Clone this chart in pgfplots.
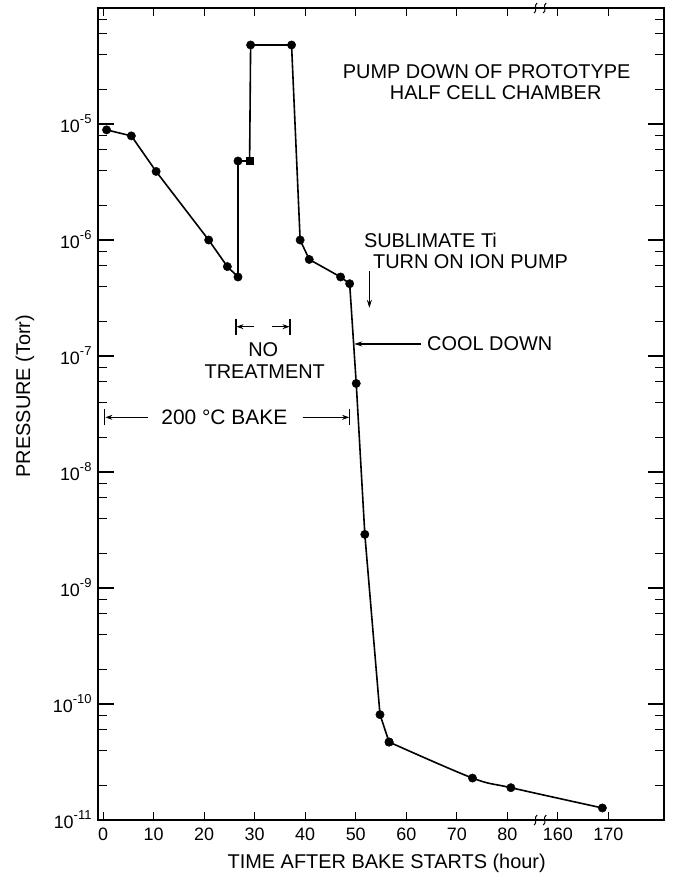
\documentclass[border=0pt]{standalone}
\usepackage{pgfplots}
\pgfplotsset{compat=1.18}
\usepackage{fontspec}
\setmainfont{Liberation Sans}
\usetikzlibrary{arrows.meta}
\newcommand\af{\fontsize{20}{24}\selectfont}
\newcommand\tf{\fontsize{18}{21}\selectfont}
\newcommand\ex[1]{10\raisebox{0.5em}{\fontsize{13}{13}\selectfont #1}}
\begin{document}
\begin{tikzpicture}
\begin{axis}[
  scale only axis, width=566bp, height=812bp,
  ymode=log, xmin=-1, xmax=111, ymin=1e-11, ymax=1e-4,
  clip=false,
  axis line style={line width=1.2bp},
  every tick/.style={black, line width=1.1bp},
  tick align=inside,
  major tick length=16bp, minor tick length=9bp,
  xtick=\empty,
  extra x ticks={0,10,20,30,40,50,60,70,80,90,100},
  extra x tick labels={0,10,20,30,40,50,60,70,80,160,170},
  extra x tick style={major tick length=8bp},
  ytick={1e-11,1e-10,1e-9,1e-8,1e-7,1e-6,1e-5},
  yticklabels={\ex{-11},\ex{-10},\ex{-9},\ex{-8},\ex{-7},\ex{-6},\ex{-5}},
  minor ytick={2e-11,4e-11,6e-11,8e-11,2e-10,4e-10,6e-10,8e-10,2e-9,4e-9,6e-9,8e-9,2e-8,4e-8,6e-8,8e-8,2e-7,4e-7,6e-7,8e-7,2e-6,4e-6,6e-6,8e-6,2e-5,4e-5,6e-5,8e-5},
  tick label style={font=\tf},
  xticklabel style={yshift=-4bp},
  yticklabel style={xshift=-3bp},
  xlabel={TIME AFTER BAKE STARTS (hour)},
  ylabel={PRESSURE (Torr)},
  xlabel style={font=\af, at={(axis description cs:0.51,-0.053)}, anchor=center},
  ylabel style={font=\af, at={(axis description cs:-0.129,0.522)}, anchor=center},
]
\coordinate (sw) at (rel axis cs:0,0);
\coordinate (ne) at (rel axis cs:1,1);

% main pump-down curve
\addplot[black, line width=1.6bp, mark=*, mark size=4.2bp,
  mark options={solid, fill=black, line width=0.4bp},
  mark indices={1,2,3,4,5,6,7,9,10,11,12,13,14,15,16,17,18}]
coordinates {
(0.7,8.9e-6) (5.6,7.9e-6) (10.5,3.9e-6) (20.9,1.0e-6) (24.6,5.9e-7)
(26.7,4.8e-7) (26.7,4.8e-6) (29.0,4.8e-6) (29.2,4.8e-5) (37.3,4.8e-5)
(39.0,1.0e-6) (40.8,6.8e-7) (47.0,4.8e-7) (48.8,4.2e-7) (50.1,5.8e-8)
(51.8,2.9e-9) (54.8,8.1e-11) (56.6,4.7e-11)
};
\addplot[black, only marks, mark=square*, mark size=3.3bp] coordinates {(29.0,4.8e-6)};
\addplot[black, line width=1.6bp, smooth, tension=0.55, mark=*, mark size=4.2bp,
  mark options={solid, fill=black, line width=0.4bp}]
coordinates {(56.6,4.7e-11) (73.1,2.3e-11) (80.7,1.9e-11) (98.8,1.27e-11)};

% axis break marks
\draw[line width=1bp] ([xshift=-1.5bp,yshift=-5bp]axis cs:85.6,1e-11) .. controls +(4bp,2bp) and +(-4bp,-2bp) .. ([xshift=1.5bp,yshift=5bp]axis cs:85.6,1e-11);
\draw[line width=1bp] ([xshift=-1.5bp,yshift=-5bp]axis cs:87.4,1e-11) .. controls +(4bp,2bp) and +(-4bp,-2bp) .. ([xshift=1.5bp,yshift=5bp]axis cs:87.4,1e-11);
\draw[line width=1bp] ([xshift=-1.5bp,yshift=-5bp]axis cs:85.6,1e-4) .. controls +(4bp,2bp) and +(-4bp,-2bp) .. ([xshift=1.5bp,yshift=5bp]axis cs:85.6,1e-4);
\draw[line width=1bp] ([xshift=-1.5bp,yshift=-5bp]axis cs:87.4,1e-4) .. controls +(4bp,2bp) and +(-4bp,-2bp) .. ([xshift=1.5bp,yshift=5bp]axis cs:87.4,1e-4);

% title
\node[font=\af] at (axis cs:75.9,2.8e-5) {PUMP DOWN OF PROTOTYPE};
\node[font=\af] at (axis cs:77.7,1.85e-5) {HALF CELL CHAMBER};

% sublimate annotation
\node[font=\af, anchor=west, inner sep=0pt] at (axis cs:51.6,1.0e-6) {SUBLIMATE Ti};
\node[font=\af, anchor=west, inner sep=0pt] at (axis cs:53.4,6.5e-7) {TURN ON ION PUMP};
\draw[line width=1.1bp, -{Stealth[length=8bp,width=5bp]}] (axis cs:52.7,5.4e-7) -- (axis cs:52.7,2.6e-7);

% cool down
\draw[line width=1.1bp, -{Stealth[length=8bp,width=5bp]}] (axis cs:63.0,1.27e-7) -- (axis cs:49.7,1.27e-7);
\node[font=\af, anchor=west, inner sep=0pt] at (axis cs:64.1,1.27e-7) {COOL DOWN};

% no treatment
\draw[line width=1.2bp] ([yshift=-8bp]axis cs:26.3,1.79e-7) -- ([yshift=8bp]axis cs:26.3,1.79e-7);
\draw[line width=1.2bp] ([yshift=-8bp]axis cs:37.0,1.79e-7) -- ([yshift=8bp]axis cs:37.0,1.79e-7);
\draw[line width=1.1bp, -{Stealth[length=7bp,width=5bp]}] (axis cs:29.9,1.79e-7) -- (axis cs:26.4,1.79e-7);
\draw[line width=1.1bp, -{Stealth[length=7bp,width=5bp]}] (axis cs:33.5,1.79e-7) -- (axis cs:36.9,1.79e-7);
\node[font=\af] at (axis cs:31.7,1.13e-7) {NO};
\node[font=\af] at (axis cs:32.0,7.3e-8) {TREATMENT};

% 200 C bake
\draw[line width=1.2bp] ([yshift=-8bp]axis cs:0.36,2.96e-8) -- ([yshift=8bp]axis cs:0.36,2.96e-8);
\draw[line width=1.2bp] ([yshift=-8bp]axis cs:48.8,2.96e-8) -- ([yshift=8bp]axis cs:48.8,2.96e-8);
\draw[line width=1.1bp, -{Stealth[length=7bp,width=5bp]}] (axis cs:8.9,2.96e-8) -- (axis cs:0.46,2.96e-8);
\draw[line width=1.1bp, -{Stealth[length=7bp,width=5bp]}] (axis cs:39.5,2.96e-8) -- (axis cs:48.7,2.96e-8);
\node[font=\fontsize{21}{24}\selectfont] at (axis cs:24.0,2.96e-8) {200 °C BAKE};
\end{axis}
\pgfresetboundingbox
\path ([shift={(-98bp,-59bp)}]sw) rectangle ([shift={(9bp,8bp)}]ne);
\end{tikzpicture}
\end{document}
